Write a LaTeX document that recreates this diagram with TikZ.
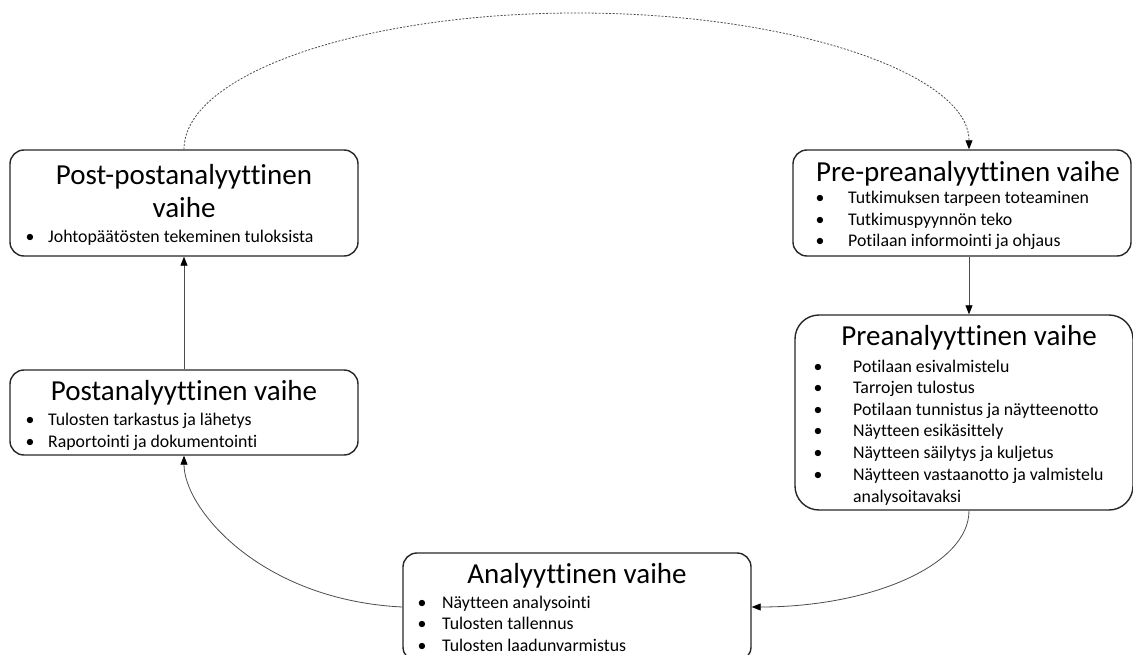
\documentclass[tikz,border=0pt]{standalone}
\usepackage{fontspec}
\setmainfont{Carlito}[Ligatures=NoCommon]
\usetikzlibrary{arrows.meta}
\begin{document}
\begin{tikzpicture}[x=1pt,y=-1pt,
  box/.style={draw=black!85, line width=1.4pt, rounded corners=14pt, inner sep=0pt},
  title/.style={anchor=base, inner sep=0pt, font=\fontsize{29}{33}\selectfont},
  item/.style={anchor=base west, inner sep=0pt, font=\fontsize{17.8}{21}\selectfont},
  dot/.style={anchor=base, inner sep=0pt, font=\fontsize{17.8}{21}\selectfont},
  link/.style={draw=black!70, line width=0.8pt, -{Triangle[length=9pt,width=7pt,color=black]}}
]
\clip (0,0) rectangle (1133,655);

% phase boxes
\node[box, minimum width=348pt, minimum height=106pt] (postpost) at (184,203) {};
\node[box, minimum width=338pt, minimum height=106pt] (prepre) at (962,203) {};
\node[box, rounded corners=24pt, minimum width=338pt, minimum height=195pt] (pre) at (964,412.5) {};
\node[box, minimum width=348pt, minimum height=85pt] (post) at (184,412.5) {};
\node[box, minimum width=348pt, minimum height=108pt] (ana) at (577,607) {};

% Post-postanalyyttinen vaihe
\node[title] (t1a) at (184,185) {Post-postanalyyttinen};
\node[title] (t1b) at (184,218) {vaihe};
\node[dot] (d1) at (30,243) {•};
\node[item] (i1) at (48,243) {Johtopäätösten tekeminen tuloksista};

% Pre-preanalyyttinen vaihe
\node[title] (t2) at (968,182) {Pre-preanalyyttinen vaihe};
\foreach \txt [count=\i] in {Tutkimuksen tarpeen toteaminen, Tutkimuspyynnön teko, Potilaan informointi ja ohjaus}{
  \node[dot] (d2-\i) at (820,{204+21.5*(\i-1)}) {•};
  \node[item] (i2-\i) at (848,{204+21.5*(\i-1)}) {\txt};
}

% Preanalyyttinen vaihe
\node[title] (t3) at (969,345) {Preanalyyttinen vaihe};
\foreach \txt [count=\i] in {Potilaan esivalmistelu, Tarrojen tulostus, Potilaan tunnistus ja näytteenotto, Näytteen esikäsittely, Näytteen säilytys ja kuljetus, Näytteen vastaanotto ja valmistelu}{
  \node[dot] (d3-\i) at (818,{372+21.6*(\i-1)}) {•};
  \node[item] (i3-\i) at (853,{372+21.6*(\i-1)}) {\txt};
}
\node[item] (i3-7) at (853,502) {analysoitavaksi};

% Postanalyyttinen vaihe
\node[title] (t4) at (184,400) {Postanalyyttinen vaihe};
\foreach \txt [count=\i] in {Tulosten tarkastus ja lähetys, Raportointi ja dokumentointi}{
  \node[dot] (d4-\i) at (30,{425+22*(\i-1)}) {•};
  \node[item] (i4-\i) at (48,{425+22*(\i-1)}) {\txt};
}

% Analyyttinen vaihe
\node[title] (t5) at (577,583) {Analyyttinen vaihe};
\foreach \txt [count=\i] in {Näytteen analysointi, Tulosten tallennus, Tulosten laadunvarmistus}{
  \node[dot] (d5-\i) at (422,{608+21.5*(\i-1)}) {•};
  \node[item] (i5-\i) at (442,{608+21.5*(\i-1)}) {\txt};
}

% connectors
\coordinate (top) at (577,13);
\draw[link, dashed, dash pattern=on 2pt off 1.5pt] (postpost.north) .. controls +(0,-75) and +(-216,0) .. (top)
  .. controls +(216,0) and +(0,-75) .. ([xshift=7pt]prepre.north);
\draw[link] ([xshift=7pt]prepre.south) -- ([xshift=5pt]pre.north);
\draw[link] ([xshift=5pt]pre.south) .. controls +(0,54) and +(120,0) .. (ana.east);
\draw[link] (ana.west) .. controls +(-142,-7) and +(0,53) .. (post.south);
\draw[link] (post.north) -- (postpost.south);
\end{tikzpicture}
\end{document}
